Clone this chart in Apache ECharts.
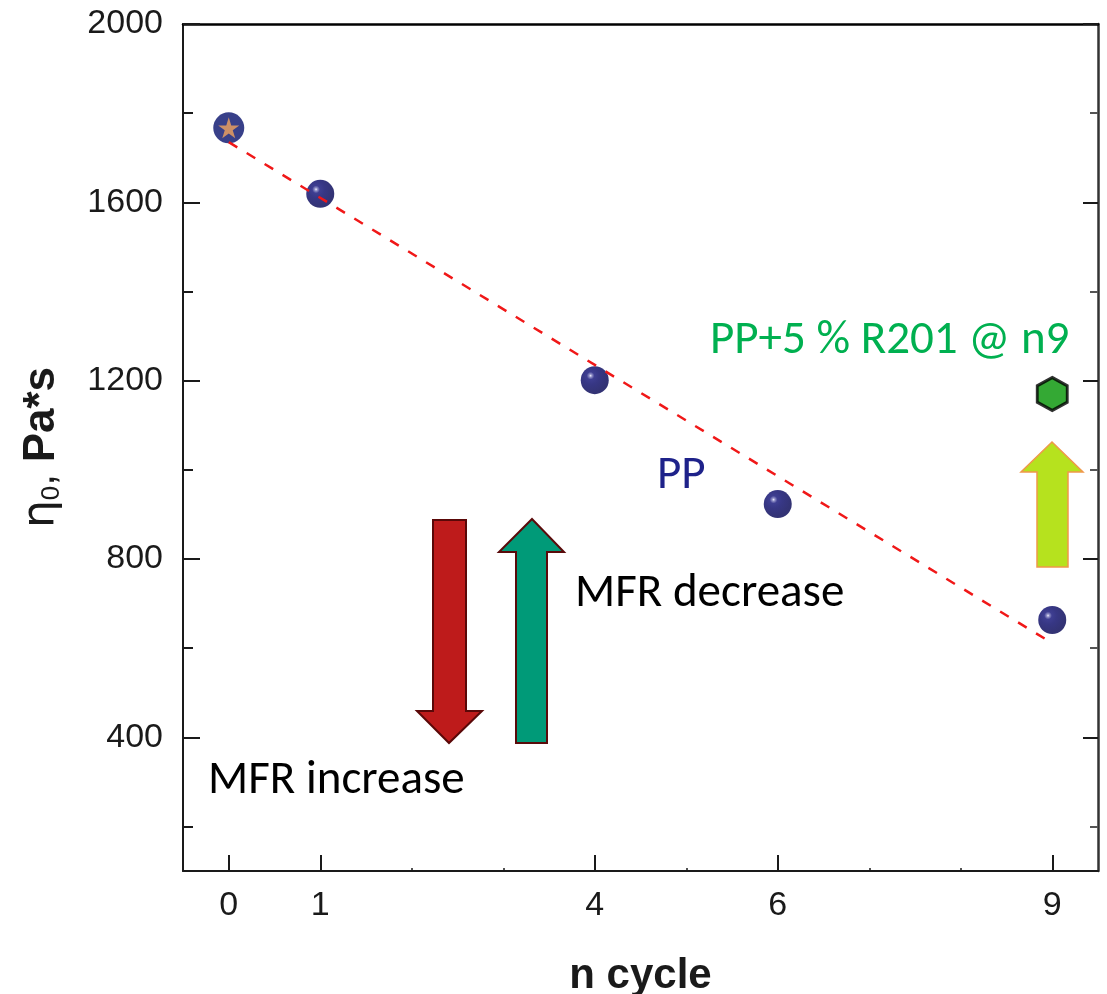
<!DOCTYPE html>
<html>
<head>
<meta charset="utf-8">
<script src="https://cdn.jsdelivr.net/npm/echarts@6/dist/echarts.min.js"></script>
<style>
    html, body { margin: 0; padding: 0; background: #fff; }
    #chart { width: 1107px; height: 994px; }
</style>
</head>
<body>
<div id="chart"></div>
<script>
    // data
    const cycles = [0, 1, 4, 6, 9];
    const eta0 = [1767, 1619, 1201, 923, 663];
    const fitX = [0, 9];
    const fitY = [1735, 611];
    const blendX = [9];
    const blendY = [1170];
    const xTickValues = [0, 1, 4, 6, 9];
    const xMinorTicks = [2, 3, 5, 7, 8];
    const yTickValues = [400, 800, 1200, 1600, 2000];
    const yMinorTicks = [200, 600, 1000, 1400, 1800];

    const axisColor = '#1a1a1a';
    const labelFont = 'Liberation Sans, Arial, sans-serif';
    const noteFont = 'Carlito, Lato, sans-serif';

    let myChart = echarts.init(document.getElementById('chart'));

    // 3D look of the balls
    let ball = {
        type: 'radial', x: 0.35, y: 0.34, r: 0.62,
        colorStops: [
            {offset: 0, color: '#f0f0ff'},
            {offset: 0.08, color: '#7a7abc'},
            {offset: 0.22, color: '#0e0e76'},
            {offset: 0.5, color: '#050566'},
            {offset: 1, color: '#000052'}
        ]
    };

    function xAxisBase(extra) {
        return Object.assign({
            type: 'value', min: -0.5, max: 9.5,
            splitLine: {show: false},
            axisLine: {show: false, onZero: false},
            axisTick: {show: false},
            axisLabel: {show: false}
        }, extra);
    }
    function yAxisBase(extra) {
        return Object.assign({
            type: 'value', min: 100, max: 2000,
            splitLine: {show: false},
            axisLine: {show: false, onZero: false},
            axisTick: {show: false},
            axisLabel: {show: false}
        }, extra);
    }

    let option = {
        animation: false,
        backgroundColor: '#fff',
        grid: {left: 183, right: 9, top: 24, bottom: 123, containLabel: false, outerBoundsMode: 'none'},
        xAxis: [
            xAxisBase({
                position: 'bottom',
                axisLine: {show: true, onZero: false, lineStyle: {color: axisColor, width: 2}},
                axisTick: {show: true, inside: true, length: 16, customValues: xTickValues, lineStyle: {color: axisColor, width: 2}},
                axisLabel: {show: true, customValues: xTickValues, margin: 18, fontSize: 34, color: axisColor, fontFamily: labelFont,
                    formatter: v => String(v)},
                name: 'n cycle',
                nameLocation: 'middle',
                nameGap: 84,
                nameTextStyle: {fontSize: 42, fontWeight: 'bold', color: axisColor, fontFamily: labelFont}
            }),
            xAxisBase({
                position: 'bottom',
                axisTick: {show: true, inside: true, length: 3, customValues: xMinorTicks, lineStyle: {color: axisColor, width: 1.5}}
            }),
            xAxisBase({
                position: 'top',
                axisLine: {show: true, onZero: false, lineStyle: {color: '#000', width: 2.5}}
            })
        ],
        yAxis: [
            yAxisBase({
                position: 'left',
                axisLine: {show: true, onZero: false, lineStyle: {color: axisColor, width: 2}},
                axisTick: {show: true, inside: true, length: 17, customValues: yTickValues, lineStyle: {color: axisColor, width: 2}},
                axisLabel: {show: true, customValues: yTickValues, margin: 20, fontSize: 34, color: axisColor, fontFamily: labelFont,
                    formatter: v => String(v)},
                name: '{eta|η}{sub|0}{n|, }{b|Pa*s}',
                nameLocation: 'middle',
                nameGap: 118,
                nameTextStyle: {
                    color: axisColor,
                    rich: {
                        eta: {fontSize: 44, fontFamily: 'DejaVu Sans', color: axisColor, lineHeight: 46},
                        sub: {fontSize: 26, fontFamily: labelFont, color: axisColor, lineHeight: 20, verticalAlign: 'bottom'},
                        n: {fontSize: 42, fontFamily: labelFont, color: axisColor, lineHeight: 46},
                        b: {fontSize: 44, fontWeight: 'bold', fontFamily: labelFont, color: axisColor, lineHeight: 46}
                    }
                }
            }),
            yAxisBase({
                position: 'left',
                axisTick: {show: true, inside: true, length: 10, customValues: yMinorTicks, lineStyle: {color: axisColor, width: 2}}
            }),
            yAxisBase({
                position: 'right',
                axisLine: {show: true, onZero: false, lineStyle: {color: '#333', width: 2.5}},
                axisTick: {show: true, inside: true, length: 15, customValues: yTickValues, lineStyle: {color: axisColor, width: 2}}
            }),
            yAxisBase({
                position: 'right',
                axisTick: {show: true, inside: true, length: 8, customValues: yMinorTicks, lineStyle: {color: '#555', width: 2}}
            })
        ],
        series: [
            {
                name: 'PP',
                type: 'scatter',
                symbol: 'circle',
                symbolSize: 28,
                itemStyle: {color: ball},
                data: cycles.slice(1).map((c, i) => [c, eta0[i + 1]]),
                z: 3
            },
            {
                // first point: navy blob with a star
                name: 'PP n0',
                type: 'scatter',
                symbol: 'circle',
                symbolSize: 31,
                itemStyle: {color: '#06106c'},
                data: [[cycles[0], eta0[0]]],
                z: 3
            },
            {
                name: 'PP n0 star',
                type: 'scatter',
                symbol: 'path://M0,-1 L0.2245,-0.309 L0.951,-0.309 L0.363,0.118 L0.588,0.809 L0,0.382 L-0.588,0.809 L-0.363,0.118 L-0.951,-0.309 L-0.2245,-0.309 Z',
                symbolSize: 21,
                itemStyle: {color: '#f3a45e'},
                data: [[cycles[0], eta0[0]]],
                z: 4
            },
            {
                name: 'fit',
                type: 'line',
                symbol: 'none',
                lineStyle: {color: '#f01818', width: 2.5, type: [10, 11]},
                data: fitX.map((x, i) => [x, fitY[i]]),
                z: 5
            },
            {
                name: 'PP+5 % R201 @ n9',
                type: 'scatter',
                symbol: 'path://M0,-1 L0.866,-0.5 L0.866,0.5 L0,1 L-0.866,0.5 L-0.866,-0.5 Z',
                symbolSize: [30, 33],
                itemStyle: {color: '#019401', borderColor: '#000', borderWidth: 3},
                data: blendX.map((x, i) => [x, blendY[i]]),
                z: 4
            }
        ],
        graphic: [
            // red down arrow
            {
                type: 'polygon', z: 10,
                shape: {points: [[433, 520], [466, 520], [466, 711], [482, 711], [449, 743], [417, 711], [433, 711]]},
                style: {fill: '#be1b1b', stroke: '#5a0808', lineWidth: 2}
            },
            // teal up arrow
            {
                type: 'polygon', z: 10,
                shape: {points: [[532, 519], [564, 552], [547, 552], [547, 743], [516, 743], [516, 552], [499, 552]]},
                style: {fill: '#009a78', stroke: '#5a0a0a', lineWidth: 2}
            },
            // yellow-green up arrow
            {
                type: 'polygon', z: 10,
                shape: {points: [[1052, 442], [1083, 472], [1068, 472], [1068, 567], [1037, 567], [1037, 472], [1021, 472]]},
                style: {fill: '#b6e21e', stroke: '#f0984a', lineWidth: 1.5}
            },
            {
                type: 'text', z: 10, left: 710, top: 318,
                style: {text: 'PP+5 % R201 @ n9', fill: '#00b050', font: '47px ' + noteFont}
            },
            {
                type: 'text', z: 10, left: 657, top: 453,
                style: {text: 'PP', fill: '#1e228a', font: '47px ' + noteFont}
            },
            {
                type: 'text', z: 10, left: 575, top: 571,
                style: {text: 'MFR decrease', fill: '#000', font: '47px ' + noteFont}
            },
            {
                type: 'text', z: 10, left: 208, top: 758,
                style: {text: 'MFR increase', fill: '#000', font: '47px ' + noteFont}
            }
        ]
    };
    myChart.setOption(option);
</script>
</body>
</html>
